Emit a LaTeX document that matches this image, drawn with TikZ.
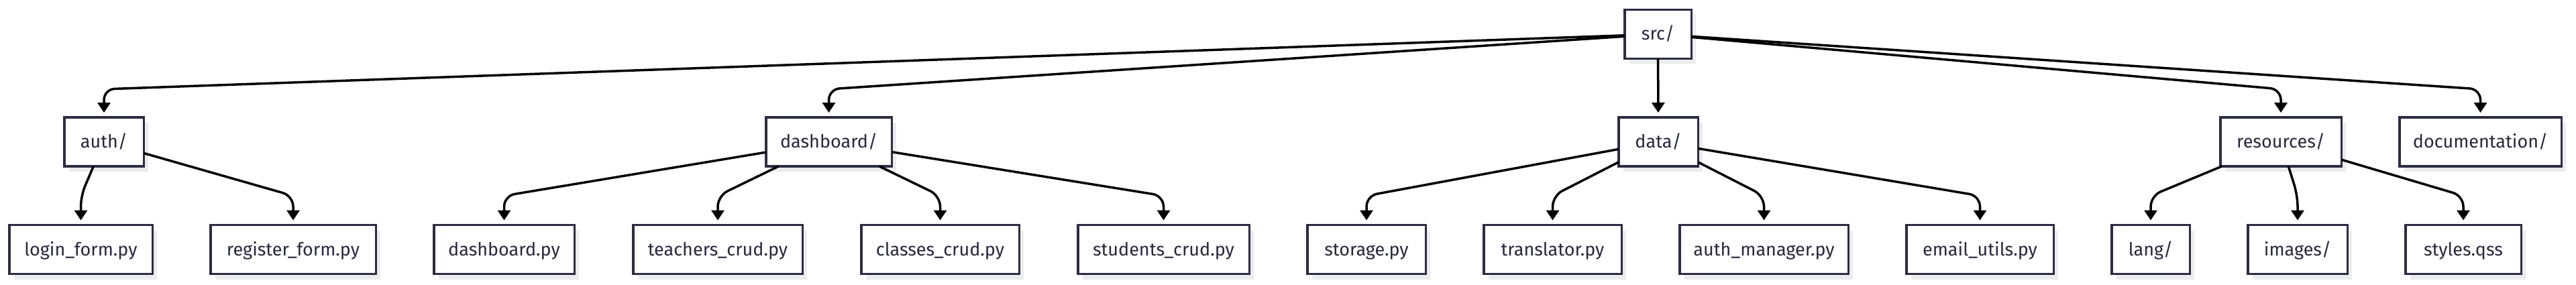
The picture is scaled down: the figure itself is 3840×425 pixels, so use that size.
\documentclass[tikz,border=0pt]{standalone}
\usepackage{fontspec}
\setmainfont{Fira Sans}
\usetikzlibrary{arrows.meta,shadows}
\definecolor{boxline}{RGB}{44,44,66}
\definecolor{txt}{RGB}{40,40,62}
\definecolor{shadowc}{RGB}{236,236,238}
\begin{document}
\begin{tikzpicture}[x=1pt,y=-1pt,
  box/.style={draw=boxline, line width=3.5pt, fill=white, minimum height=73pt,
    inner sep=0pt, outer sep=0pt, font=\fontsize{27}{32}\selectfont, text=txt,
    text height=24pt, text depth=6pt,
    general shadow={fill=shadowc, shadow xshift=7pt, shadow yshift=-8pt}},
  link/.style={line width=3.5pt, -{Triangle[length=15pt,width=19pt]},
    shorten >=7pt, rounded corners=16pt}]
\fill[white] (0,0) rectangle (3840,425);
\useasboundingbox (0,0) rectangle (3840,425);
\coordinate (b1) at (0,133);
\coordinate (b2) at (0,292);
% row 1
\node[box, minimum width=99.5pt] (src) at (2471.5,51) {src/};
% row 2
\node[box, minimum width=118.5pt] (auth) at (155,211.5) {auth/};
\node[box, minimum width=187.5pt] (dash) at (1235.5,211.5) {dashboard/};
\node[box, minimum width=118.5pt] (data) at (2472,211.5) {data/};
\node[box, minimum width=180.5pt] (res) at (3400,211.5) {resources/};
\node[box, minimum width=241.5pt] (doc) at (3697.5,211.5) {documentation/};
% row 3
\node[box, minimum width=213.5pt] (login) at (120.5,372) {login\_form.py};
\node[box, minimum width=246.5pt] (reg) at (437,372) {register\_form.py};
\node[box, minimum width=209.5pt] (dpy) at (751.5,372) {dashboard.py};
\node[box, minimum width=252.5pt] (teach) at (1070,372) {teachers\_crud.py};
\node[box, minimum width=235.5pt] (cls) at (1401.5,372) {classes\_crud.py};
\node[box, minimum width=255.5pt] (stud) at (1734.5,372) {students\_crud.py};
\node[box, minimum width=176.5pt] (stor) at (2037,372) {storage.py};
\node[box, minimum width=205.5pt] (trans) at (2314.5,372) {translator.py};
\node[box, minimum width=251.5pt] (am) at (2629.5,372) {auth\_manager.py};
\node[box, minimum width=219.5pt] (email) at (2951.5,372) {email\_utils.py};
\node[box, minimum width=116.5pt] (lang) at (3206,372) {lang/};
\node[box, minimum width=148.5pt] (img) at (3425,372) {images/};
\node[box, minimum width=172.5pt] (sty) at (3672,372) {styles.qss};
% edges row 1 -> 2
\draw[link] (src) -- (auth |- b1) -- (auth);
\draw[link] (src) -- (dash |- b1) -- (dash);
\draw[link] (src) -- (data);
\draw[link] (src) -- (res |- b1) -- (res);
\draw[link] (src) -- (doc |- b1) -- (doc);
% edges row 2 -> 3
\draw[link] (auth) -- (login |- b2) -- (login);
\draw[link] (auth) -- (reg |- b2) -- (reg);
\draw[link] (dash) -- (dpy |- b2) -- (dpy);
\draw[link] (dash) -- (teach |- b2) -- (teach);
\draw[link] (dash) -- (cls |- b2) -- (cls);
\draw[link] (dash) -- (stud |- b2) -- (stud);
\draw[link] (data) -- (stor |- b2) -- (stor);
\draw[link] (data) -- (trans |- b2) -- (trans);
\draw[link] (data) -- (am |- b2) -- (am);
\draw[link] (data) -- (email |- b2) -- (email);
\draw[link] (res) -- (lang |- b2) -- (lang);
\draw[link] (res) -- (img |- b2) -- (img);
\draw[link] (res) -- (sty |- b2) -- (sty);
\end{tikzpicture}
\end{document}
